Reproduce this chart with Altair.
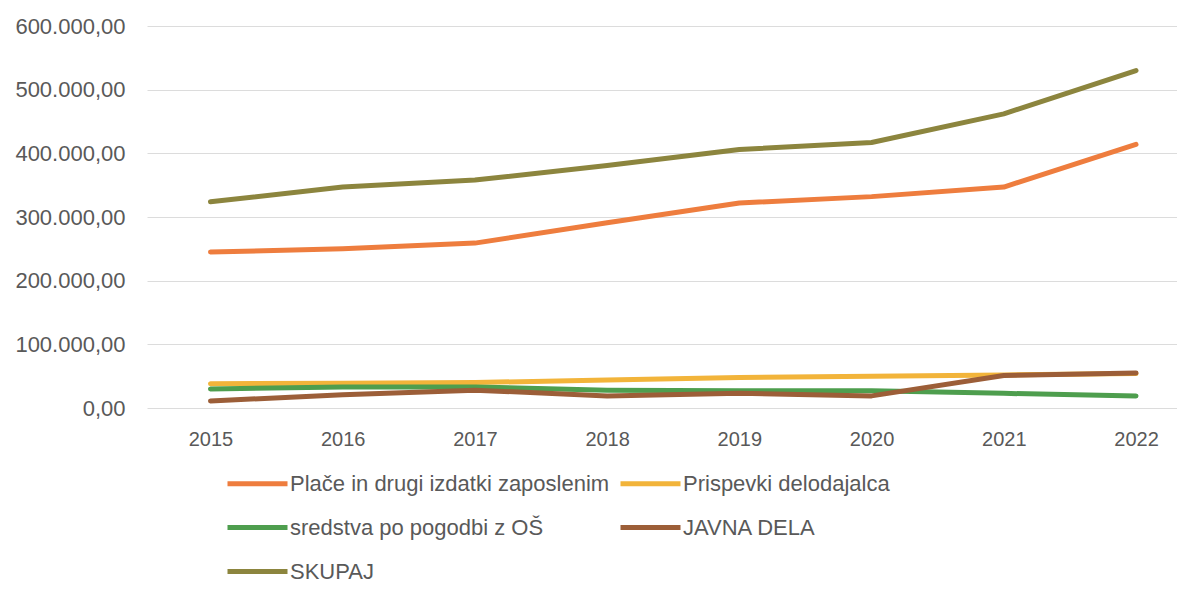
import altair as alt
import pandas as pd

years = [2015, 2016, 2017, 2018, 2019, 2020, 2021, 2022]
series_names = [
    "Plače in drugi izdatki zaposlenim",
    "Prispevki delodajalca",
    "sredstva po pogodbi z OŠ",
    "JAVNA DELA",
    "SKUPAJ",
]
place = [245000, 250000, 259000, 291000, 322000, 332000, 347000, 414000]
prispevki = [38000, 39000, 40000, 44000, 48000, 50000, 52000, 54000]
sredstva = [30000, 33000, 33000, 28000, 27000, 27000, 23000, 19000]
javna = [11000, 21000, 28000, 19000, 23000, 19000, 51000, 55000]
skupaj = [324000, 347000, 358000, 381000, 406000, 417000, 462000, 530000]
colors = ["#EE7D3E", "#F2B43A", "#4E9E4E", "#9C5E38", "#8C853E"]
y_ticks = [0, 100000, 200000, 300000, 400000, 500000, 600000]

values = [place, prispevki, sredstva, javna, skupaj]
rows = []
for name, vals in zip(series_names, values):
    for yr, v in zip(years, vals):
        rows.append({"leto": yr, "serija": name, "vrednost": v})
df = pd.DataFrame(rows)

FONT = "Liberation Sans"
GREY = "#595959"

chart = (
    alt.Chart(df)
    .mark_line(strokeWidth=5, strokeCap="round", strokeJoin="round")
    .encode(
        x=alt.X(
            "leto:Q",
            scale=alt.Scale(domain=[2014.52, 2022.31], nice=False, zero=False),
            axis=alt.Axis(
                values=years,
                format="d",
                title=None,
                grid=False,
                domain=False,
                ticks=False,
                labelPadding=21,
                labelFontSize=20,
                labelColor=GREY,
                labelFont=FONT,
            ),
        ),
        y=alt.Y(
            "vrednost:Q",
            scale=alt.Scale(domain=[0, 600000], nice=False),
            axis=alt.Axis(
                values=y_ticks,
                format=",.2f",
                title=None,
                domain=False,
                ticks=False,
                labelPadding=22,
                labelFontSize=22,
                labelColor=GREY,
                labelFont=FONT,
                gridColor="#DCDCDC",
                gridWidth=1,
            ),
        ),
        color=alt.Color(
            "serija:N",
            scale=alt.Scale(domain=series_names, range=colors),
            sort=series_names,
            legend=alt.Legend(
                title=None,
                orient="none",
                direction="horizontal",
                legendX=78,
                legendY=425,
                columns=2,
                symbolType="stroke",
                symbolSize=3600,
                symbolStrokeWidth=5,
                labelFontSize=22,
                labelColor=GREY,
                labelFont=FONT,
                labelOffset=0,
                columnPadding=0,
                rowPadding=-6,
                padding=0,
                labelLimit=500,
            ),
        ),
        order=alt.Order("leto:Q"),
    )
    .properties(
        width=1030,
        height=382,
        autosize=alt.AutoSizeParams(type="none"),
        padding={"left": 139, "top": 18, "right": 0, "bottom": 178},
    )
    .configure(
        locale={
            "number": {
                "decimal": ",",
                "thousands": ".",
                "grouping": [3],
                "currency": ["", " €"],
            }
        }
    )
    .configure_view(stroke=None)
)

chart.save("out.html", embed_options={"renderer": "svg", "actions": False})
